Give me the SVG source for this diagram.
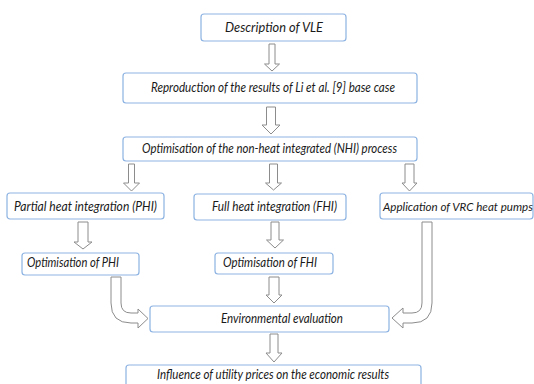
<svg xmlns="http://www.w3.org/2000/svg" width="534" height="384" viewBox="0 0 534 384">
<style>
.box{fill:#ffffff;stroke:#8db3e2;stroke-width:1.2}
.arr{fill:#ffffff;stroke:#8c8c8c;stroke-width:1}
text{font-family:Lato,"Liberation Sans",sans-serif;font-style:italic;font-size:13.5px;fill:#1a1a1a}
</style>
<rect width="534" height="384" fill="#ffffff"/>
<g id="connectors">
<path class="arr" d="M269,44 L275,44 L275,64 L279.5,64 L272,71 L264.5,64 L269,64 Z"/>
<path class="arr" d="M266.5,107 L275.5,107 L275.5,125 L280,125 L271,134 L262,125 L266.5,125 Z"/>
<path class="arr" d="M128.5,164 L134.5,164 L134.5,183 L139.5,183 L131.5,191 L123.5,183 L128.5,183 Z"/>
<path class="arr" d="M269.5,164 L277.5,164 L277.5,183 L281.5,183 L273.5,190 L265.5,183 L269.5,183 Z"/>
<path class="arr" d="M405,164 L414,164 L414,183 L417,183 L409.5,191 L402,183 L405,183 Z"/>
<path class="arr" d="M78,222 L88,222 L88,242 L92,242 L83,249 L74,242 L78,242 Z"/>
<path class="arr" d="M271,222 L279,222 L279,240 L283.5,240 L275,248 L266.5,240 L271,240 Z"/>
<path class="arr" d="M269,277 L279,277 L279,295 L282,295 L274,303 L266,295 L269,295 Z"/>
<path class="arr" d="M270,334 L278,334 L278,353 L282,353 L274,362 L266,353 L270,353 Z"/>
<path class="arr" d="M111,277 L121,277 L121,303 Q121,313 131,313 L138,313 L138,309 L148,318.5 L138,328 L138,323 L131,323 Q111,323 111,303 Z"/>
<path class="arr" d="M422,222 L432,222 L432,303 Q432,323 412,323 L403,323 L403,328 L392,318 L403,308 L403,313 L412,313 Q422,313 422,303 Z"/>
</g>
<g id="n1"><rect class="box" x="201" y="14" width="145" height="27" rx="3"/><text x="274" y="32" text-anchor="middle" textLength="98" lengthAdjust="spacingAndGlyphs">Description of VLE</text></g>
<g id="n2"><rect class="box" x="123" y="73" width="294" height="30" rx="3"/><text x="273" y="92" text-anchor="middle" textLength="244" lengthAdjust="spacingAndGlyphs">Reproduction of the results of Li et al. [9] base case</text></g>
<g id="n3"><rect class="box" x="123" y="137" width="294" height="24" rx="3"/><text x="269.5" y="153" text-anchor="middle" textLength="255" lengthAdjust="spacingAndGlyphs">Optimisation of the non-heat integrated (NHI) process</text></g>
<g id="n4"><rect class="box" x="7" y="193" width="157" height="26" rx="3"/><text x="85.5" y="211" text-anchor="middle" textLength="143" lengthAdjust="spacingAndGlyphs">Partial heat integration (PHI)</text></g>
<g id="n5"><rect class="box" x="194" y="194" width="152" height="26" rx="3"/><text x="274.5" y="211" text-anchor="middle" textLength="125" lengthAdjust="spacingAndGlyphs">Full heat integration (FHI)</text></g>
<g id="n6"><rect class="box" x="380" y="193" width="153" height="26" rx="3"/><text x="383" y="211" style="font-size:11.6px">Application of VRC heat pumps</text></g>
<g id="n7"><rect class="box" x="22" y="253" width="117" height="22" rx="3"/><text x="73" y="267" text-anchor="middle" textLength="92" lengthAdjust="spacingAndGlyphs">Optimisation of PHI</text></g>
<g id="n8"><rect class="box" x="215" y="253" width="118" height="21" rx="3"/><text x="270" y="267" text-anchor="middle" textLength="94" lengthAdjust="spacingAndGlyphs">Optimisation of FHI</text></g>
<g id="n9"><rect class="box" x="150" y="306" width="239" height="26" rx="3"/><text x="282" y="323" text-anchor="middle" textLength="122" lengthAdjust="spacingAndGlyphs">Environmental evaluation</text></g>
<g id="n10"><rect class="box" x="126" y="365" width="295" height="30" rx="3"/><text x="273" y="379" text-anchor="middle" textLength="232" lengthAdjust="spacingAndGlyphs">Influence of utility prices on the economic results</text></g>
</svg>
